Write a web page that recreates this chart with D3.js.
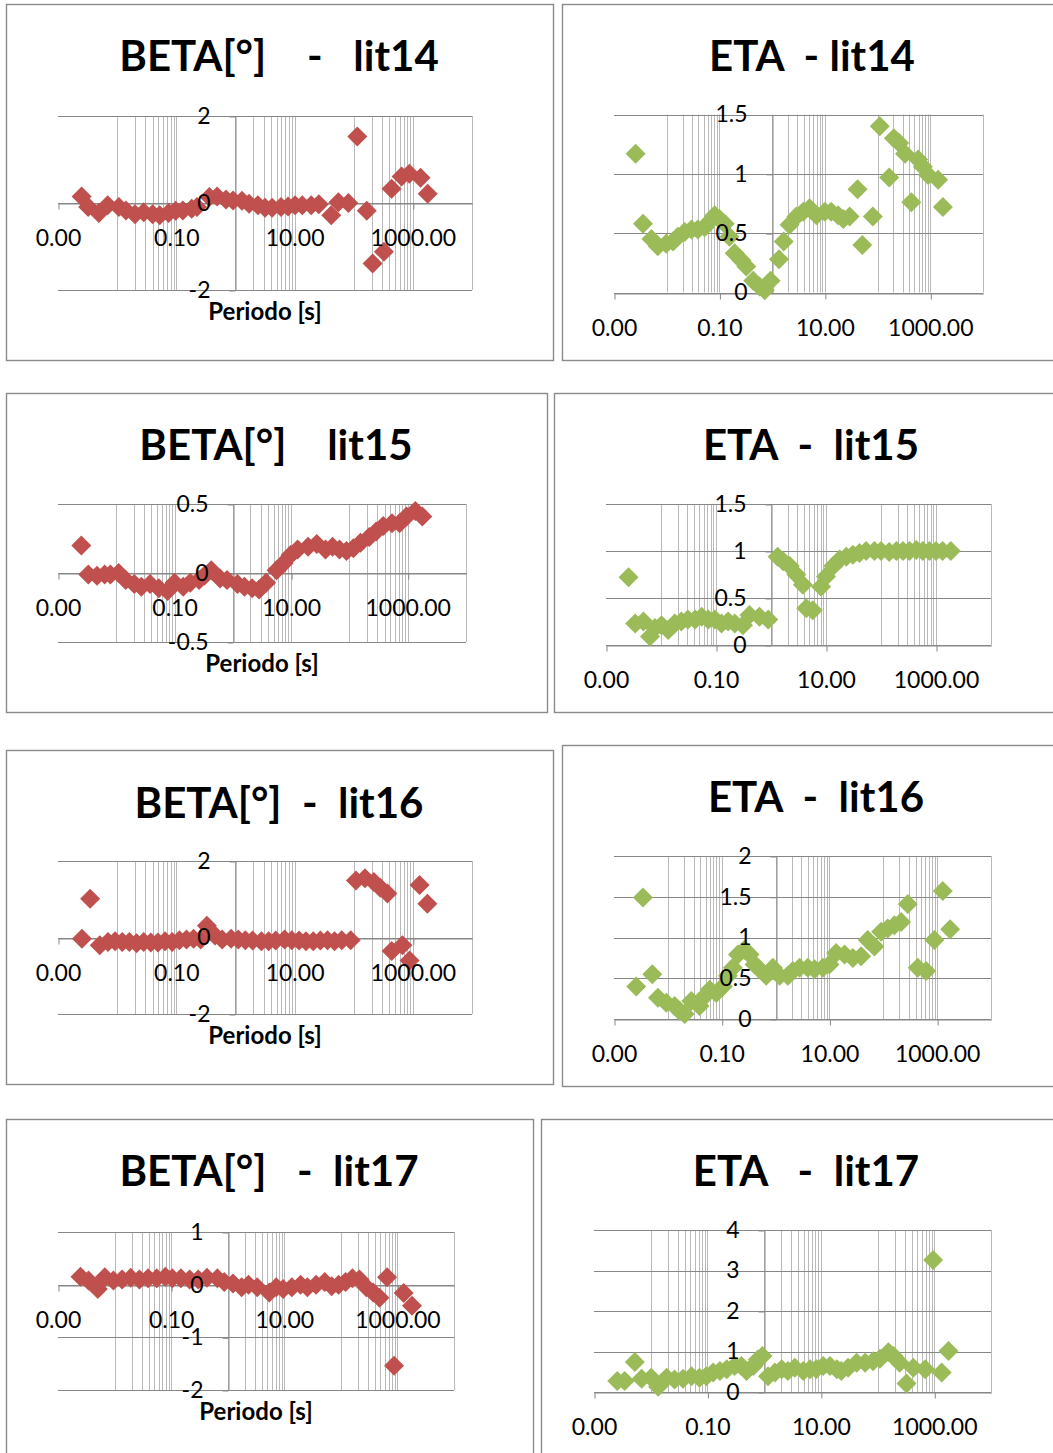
<!DOCTYPE html>
<html>
<head>
<meta charset="utf-8">
<script src="https://cdn.jsdelivr.net/npm/d3@7"></script>
<style>
  body { margin: 0; background: #fff; }
  svg { display: block; }
  text { font-family: Lato, "Open Sans", sans-serif; fill: #000; }
</style>
</head>
<body>
<svg id="chart" width="1053" height="1453"></svg>
<script>
// ---- x axis (period, log scale) ----
const xMajorTicks = [0.001, 0.1, 10, 1000];

// ---- y tick values per panel ----
const yTicksBeta14 = [-2, 0, 2];
const yTicksEta14  = [0, 0.5, 1, 1.5];
const yTicksBeta15 = [-0.5, 0, 0.5];
const yTicksEta15  = [0, 0.5, 1, 1.5];
const yTicksBeta16 = [-2, 0, 2];
const yTicksEta16  = [0, 0.5, 1, 1.5, 2];
const yTicksBeta17 = [-2, -1, 0, 1];
const yTicksEta17  = [0, 1, 2, 3, 4];

// ---- lit14 ----
const periodsBeta14 = [0.00251,0.00324,0.0049,0.00692,0.0107,0.0141,0.02,0.0282,0.0398,0.0525,0.0741,0.0977,0.129,0.182,0.224,0.363,0.49,0.692,0.912,1.29,1.70,2.40,3.16,4.17,5.89,7.76,10.2,13.5,19.1,25.7,41.7,55.0,81.3,115,166,209,324,437,646,871,1350,1780];
const beta14 = [0.15,-0.09,-0.23,-0.05,-0.09,-0.17,-0.26,-0.21,-0.26,-0.28,-0.23,-0.18,-0.17,-0.13,-0.09,0.14,0.15,0.08,0.06,0.05,-0.02,-0.05,-0.11,-0.11,-0.09,-0.08,-0.05,-0.05,-0.05,-0.03,-0.28,0.02,0.00,1.53,-0.18,-1.39,-1.12,0.33,0.61,0.67,0.58,0.21];
const periodsEta14 = [0.00257,0.00355,0.00513,0.00676,0.00977,0.0132,0.0162,0.0219,0.0295,0.0389,0.0525,0.0661,0.0813,0.1,0.126,0.155,0.195,0.263,0.324,0.437,0.575,0.724,0.933,1.35,1.66,2.14,2.88,3.89,5.13,6.92,10,13.2,17.8,22.4,29.5,41.7,51.3,81.3,110,166,204,257,331,437,589,724,912,1410,1740];
const eta14 = [1.17,0.58,0.45,0.39,0.41,0.43,0.47,0.51,0.53,0.53,0.55,0.60,0.65,0.62,0.58,0.47,0.33,0.27,0.22,0.10,0.05,0.02,0.10,0.28,0.43,0.57,0.64,0.68,0.71,0.65,0.68,0.68,0.65,0.62,0.64,0.87,0.40,0.64,1.40,0.97,1.30,1.26,1.17,0.76,1.12,1.06,0.99,0.95,0.72];

// ---- lit15 ----
const periodsBeta15 = [0.00251,0.00331,0.00468,0.00631,0.00794,0.011,0.0145,0.0204,0.0269,0.038,0.0537,0.0759,0.1,0.141,0.186,0.263,0.324,0.427,0.603,0.794,1.20,1.58,2.14,2.82,3.72,5.62,7.41,9.77,12.9,19.5,27.5,38.9,51.3,67.6,89.1,117,155,219,288,380,537,724,955,1350,1780];
const beta15 = [0.20,-0.01,-0.02,-0.01,-0.01,0.00,-0.05,-0.08,-0.10,-0.08,-0.11,-0.13,-0.07,-0.10,-0.07,-0.05,-0.02,0.02,-0.04,-0.05,-0.08,-0.10,-0.11,-0.12,-0.07,0.02,0.07,0.13,0.17,0.19,0.21,0.17,0.19,0.17,0.16,0.18,0.22,0.26,0.30,0.34,0.36,0.36,0.41,0.45,0.41];
const periodsEta15 = [0.00257,0.00339,0.00479,0.00631,0.00776,0.0102,0.0135,0.0178,0.0234,0.0309,0.0417,0.055,0.0724,0.0955,0.126,0.166,0.219,0.309,0.407,0.617,0.891,1.32,1.66,2.19,2.88,3.80,4.37,5.75,8.13,10.0,13.5,17.8,23.4,30.9,40.7,53.7,75.9,100,141,191,251,331,437,575,759,1000,1320,1860];
const eta15 = [0.72,0.23,0.25,0.09,0.18,0.21,0.16,0.23,0.25,0.27,0.27,0.30,0.27,0.27,0.23,0.25,0.23,0.21,0.32,0.30,0.27,0.94,0.89,0.84,0.75,0.64,0.39,0.37,0.62,0.73,0.84,0.91,0.94,0.96,0.98,1.00,1.00,1.00,0.99,1.00,1.00,1.00,1.01,1.00,1.00,1.00,1.00,1.00];

// ---- lit16 ----
const periodsBeta16 = [0.00254,0.00349,0.00508,0.007,0.00925,0.0122,0.0161,0.0213,0.0281,0.0371,0.049,0.0646,0.0853,0.113,0.149,0.196,0.259,0.329,0.452,0.597,0.845,1.12,1.47,1.95,2.75,3.64,4.80,6.79,8.97,11.9,15.6,20.7,27.3,36.0,47.5,62.8,88.9,109,155,219,282,372,439,667,879,1300,1760];
const beta16 = [-0.03,1.01,-0.20,-0.12,-0.10,-0.12,-0.12,-0.15,-0.12,-0.13,-0.13,-0.10,-0.12,-0.07,-0.05,-0.03,-0.05,0.31,0.05,-0.05,-0.03,-0.05,-0.07,-0.08,-0.10,-0.10,-0.08,-0.05,-0.07,-0.08,-0.10,-0.10,-0.08,-0.07,-0.10,-0.07,-0.07,1.49,1.55,1.45,1.30,1.15,-0.35,-0.20,-0.60,1.37,0.88];
const periodsEta16 = [0.00259,0.00345,0.00514,0.00655,0.00935,0.0134,0.0165,0.0205,0.0272,0.0388,0.0481,0.0596,0.0792,0.105,0.130,0.161,0.2,0.265,0.329,0.407,0.505,0.67,0.891,1.19,1.69,2.09,2.79,3.97,5.28,7.55,10.0,13.3,19.1,27.2,38.8,51.5,68.5,91.2,121,161,214,285,437,624,889,1270,1740];
const eta16 = [0.40,1.49,0.55,0.26,0.20,0.16,0.10,0.06,0.22,0.16,0.28,0.36,0.32,0.40,0.53,0.63,0.79,0.85,0.79,0.67,0.61,0.53,0.63,0.53,0.53,0.59,0.63,0.63,0.61,0.63,0.67,0.81,0.79,0.75,0.77,0.97,0.89,1.07,1.11,1.15,1.19,1.41,0.63,0.59,0.97,1.57,1.10];

// ---- lit17 ----
const periodsBeta17 = [0.0025,0.00346,0.00506,0.00671,0.00955,0.0136,0.0193,0.0275,0.0391,0.0556,0.0791,0.105,0.149,0.212,0.302,0.43,0.656,0.869,1.24,1.76,2.33,3.32,5.43,7.21,9.55,13.6,19.4,25.6,36.5,51.9,68.8,91.2,121,160,213,282,373,482,656,871,1290,1810];
const beta17 = [0.15,0.08,-0.08,0.14,0.08,0.10,0.13,0.10,0.12,0.12,0.15,0.12,0.12,0.10,0.10,0.13,0.12,0.05,0.02,-0.05,0.00,-0.05,-0.15,-0.05,-0.08,-0.05,0.00,-0.05,0.00,0.05,-0.03,0.00,0.05,0.12,0.10,-0.05,-0.15,-0.25,0.14,-1.54,-0.16,-0.40];
const periodsEta17 = [0.00257,0.00347,0.00525,0.00692,0.0102,0.0135,0.0191,0.0263,0.0372,0.0525,0.0724,0.0955,0.126,0.166,0.219,0.302,0.398,0.49,0.646,0.776,0.933,1.17,1.55,2.04,2.63,3.47,4.90,6.46,8.32,11.0,14.5,19.1,22.9,30.2,42.7,60.3,83.2,110,155,191,245,324,427,692,955,1350,1780];
const eta17 = [0.27,0.27,0.74,0.33,0.35,0.13,0.35,0.31,0.33,0.39,0.35,0.39,0.48,0.52,0.56,0.64,0.64,0.52,0.64,0.80,0.89,0.39,0.48,0.56,0.52,0.60,0.52,0.56,0.57,0.64,0.64,0.56,0.52,0.60,0.72,0.72,0.76,0.82,0.98,0.89,0.72,0.21,0.60,0.56,3.26,0.48,1.01];

const RED = "#C0504D";
const GREEN = "#9BBB59";

// layout of the eight chart boxes
const panels = [
  { frame: [6, 4, 547, 356], title: "BETA[°]    -   lit14", tx: 279, ty: 71,
    plot: { l: 58, r: 472, t: 116, b: 290 }, yDomain: [-2, 2], yTicks: yTicksBeta14,
    periods: periodsBeta14, values: beta14, color: RED, xTitle: true },
  { frame: [562, 4, 520, 356], title: "ETA  - lit14", tx: 812, ty: 71,
    plot: { l: 614, r: 983, t: 114.5, b: 292.5 }, yDomain: [0, 1.5], yTicks: yTicksEta14,
    periods: periodsEta14, values: eta14, color: GREEN, xTitle: false },
  { frame: [6, 393, 541, 319], title: "BETA[°]    lit15", tx: 276, ty: 460,
    plot: { l: 58, r: 466, t: 504, b: 642 }, yDomain: [-0.5, 0.5], yTicks: yTicksBeta15,
    periods: periodsBeta15, values: beta15, color: RED, xTitle: true },
  { frame: [554, 393, 530, 319], title: "ETA  -  lit15", tx: 811, ty: 460,
    plot: { l: 606, r: 991, t: 504, b: 645 }, yDomain: [0, 1.5], yTicks: yTicksEta15,
    periods: periodsEta15, values: eta15, color: GREEN, xTitle: false },
  { frame: [6, 750, 547, 334], title: "BETA[°]  -  lit16", tx: 279, ty: 818,
    plot: { l: 58, r: 472, t: 861, b: 1014 }, yDomain: [-2, 2], yTicks: yTicksBeta16,
    periods: periodsBeta16, values: beta16, color: RED, xTitle: true },
  { frame: [562, 745, 520, 341], title: "ETA  -  lit16", tx: 816, ty: 812,
    plot: { l: 614, r: 991, t: 856, b: 1019 }, yDomain: [0, 2], yTicks: yTicksEta16,
    periods: periodsEta16, values: eta16, color: GREEN, xTitle: false },
  { frame: [6, 1119, 527, 360], title: "BETA[°]   -  lit17", tx: 269, ty: 1186,
    plot: { l: 58, r: 454, t: 1232, b: 1390 }, yDomain: [-2, 1], yTicks: yTicksBeta17,
    periods: periodsBeta17, values: beta17, color: RED, xTitle: true },
  { frame: [541, 1119, 540, 360], title: "ETA   -  lit17", tx: 806, ty: 1186,
    plot: { l: 594, r: 991, t: 1230, b: 1392 }, yDomain: [0, 4], yTicks: yTicksEta17,
    periods: periodsEta17, values: eta17, color: GREEN, xTitle: false }
];

// vertical grid: ten steps inside the upper decade of every 100x interval
const xGridValues = [];
xMajorTicks.forEach(m => {
  for (let k = 1; k <= 9; k++) {
    const v = m * 10 * k;
    if (v <= 10000.0001) xGridValues.push(v);
  }
});

const svg = d3.select("#chart");
svg.append("rect").attr("width", 1053).attr("height", 1453).attr("fill", "#fff");

const fmtX = d3.format(".2f");
const fmtY = d => String(d);
const crisp = v => Math.round(v) + 0.5;
const diamond = r => `M0,${-r}L${r},0L0,${r}L${-r},0Z`;

function drawPanel(p) {
  const g = svg.append("g");
  const [fx, fy, fw, fh] = p.frame;

  g.append("rect")
    .attr("x", fx + 0.5).attr("y", fy + 0.5)
    .attr("width", fw).attr("height", fh)
    .attr("fill", "#fff").attr("stroke", "#8a8a8a").attr("stroke-width", 1.4);

  const x = d3.scaleLog().domain([0.001, 10000]).range([p.plot.l, p.plot.r]);
  const y = d3.scaleLinear().domain(p.yDomain).range([p.plot.b, p.plot.t]);

  // vertical gridlines
  g.append("g").selectAll("line").data(xGridValues.concat(xMajorTicks.slice(1))).join("line")
    .attr("x1", d => crisp(x(d))).attr("x2", d => crisp(x(d)))
    .attr("y1", p.plot.t).attr("y2", p.plot.b)
    .attr("stroke", "#b9b9b9").attr("stroke-width", 1);

  // horizontal gridlines
  g.append("g").selectAll("line").data(p.yTicks).join("line")
    .attr("x1", p.plot.l).attr("x2", p.plot.r)
    .attr("y1", d => crisp(y(d))).attr("y2", d => crisp(y(d)))
    .attr("stroke", "#878787").attr("stroke-width", 1);

  // axis lines: x axis along value 0, y axis crossing at period 1
  const x0 = crisp(x(1));
  const y0 = crisp(y(0));
  const xAxisLines = d3.axisBottom(x).tickValues(xMajorTicks).tickFormat("").tickSize(6).tickSizeOuter(0);
  const gx = g.append("g").attr("transform", `translate(0.5,${y0})`).call(xAxisLines);
  gx.select(".domain").attr("stroke", "#878787");
  gx.selectAll(".tick line").attr("stroke", "#878787");

  const yAxisLines = d3.axisLeft(y).tickValues(p.yTicks).tickFormat("").tickSize(6).tickSizeOuter(0);
  const gy = g.append("g").attr("transform", `translate(${x0},0.5)`).call(yAxisLines);
  gy.select(".domain").attr("stroke", "#878787");
  gy.selectAll(".tick line").attr("stroke", "#878787");

  // markers
  const pts = p.periods.map((t, i) => [t, p.values[i]]);
  g.append("g").selectAll("path").data(pts).join("path")
    .attr("d", diamond(10))
    .attr("transform", d => `translate(${x(d[0])},${y(d[1])})`)
    .attr("fill", p.color);

  // tick labels on top of the markers
  const xLabels = d3.axisBottom(x).tickValues(xMajorTicks).tickFormat(fmtX).tickSize(0).tickPadding(26);
  const lx = g.append("g").attr("transform", `translate(0,${y0})`).call(xLabels);
  lx.select(".domain").remove();
  lx.selectAll("text").attr("font-size", 23).attr("font-family", "Lato").attr("fill", "#000");

  const yLabels = d3.axisLeft(y).tickValues(p.yTicks).tickFormat(fmtY).tickSize(0).tickPadding(25);
  const ly = g.append("g").attr("transform", `translate(${x0},0)`).call(yLabels);
  ly.select(".domain").remove();
  ly.selectAll("text").attr("font-size", 23).attr("font-family", "Lato").attr("fill", "#000");

  // titles
  g.append("text")
    .attr("x", p.tx).attr("y", p.ty)
    .attr("text-anchor", "middle")
    .attr("font-size", 42).attr("font-weight", 700)
    .style("white-space", "pre")
    .text(p.title);

  if (p.xTitle) {
    g.append("text")
      .attr("x", (p.plot.l + p.plot.r) / 2).attr("y", p.plot.b + 30)
      .attr("text-anchor", "middle")
      .attr("font-size", 24).attr("font-weight", 700)
      .text("Periodo [s]");
  }
}

panels.forEach(drawPanel);
</script>
</body>
</html>
